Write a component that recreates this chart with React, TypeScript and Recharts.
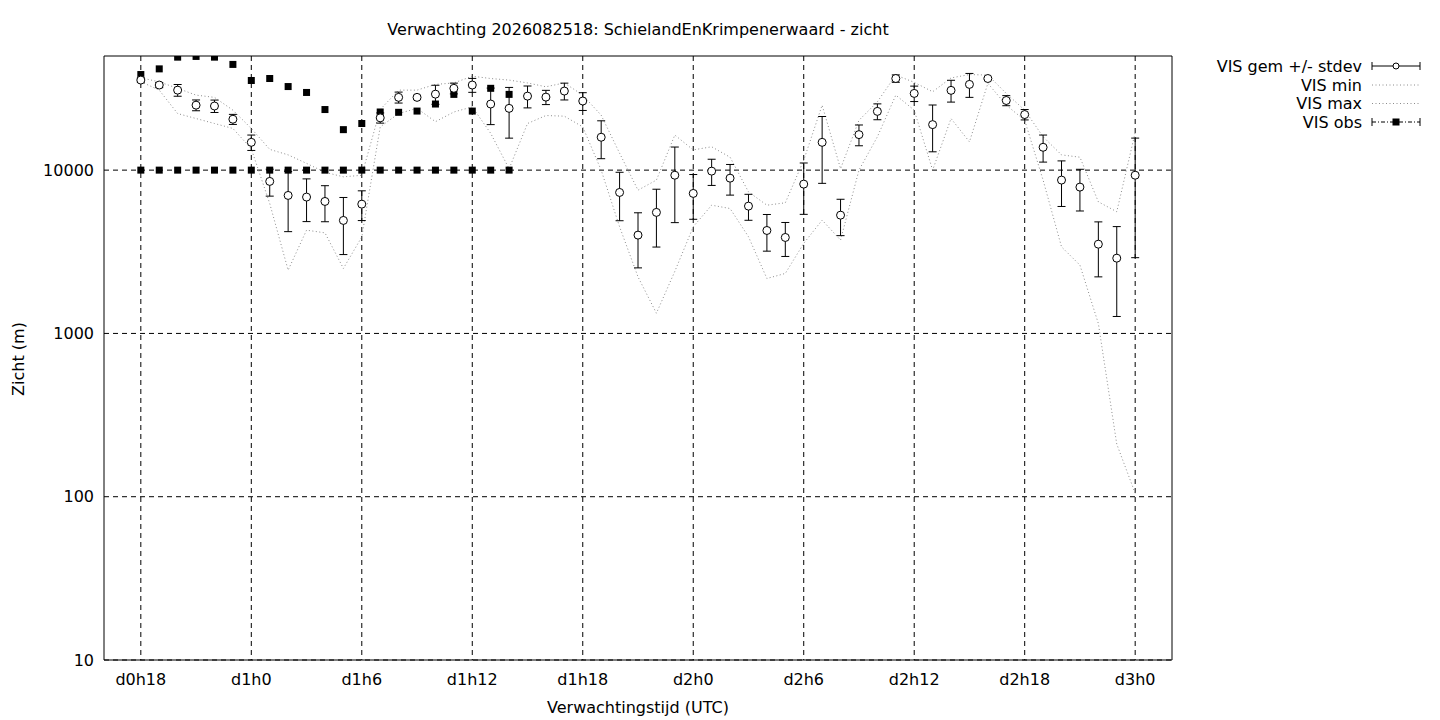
import React from "react";
import {
  CartesianGrid,
  ComposedChart,
  ErrorBar,
  Legend,
  Line,
  Scatter,
  XAxis,
  YAxis,
} from "recharts";

// forecast hours since d0h0
const hours = [
  18, 19, 20, 21, 22, 23, 24, 25, 26, 27, 28, 29, 30, 31, 32, 33, 34, 35, 36,
  37, 38, 39, 40, 41, 42, 43, 44, 45, 46, 47, 48, 49, 50, 51, 52, 53, 54, 55,
  56, 57, 58, 59, 60, 61, 62, 63, 64, 65, 66, 67, 68, 69, 70, 71, 72,
];

const visMean = [
  35600, 33200, 30900, 25000, 24700, 20500, 14800, 8530, 7000, 6840, 6430,
  4920, 6190, 20900, 27900, 27900, 29200, 31700, 33200, 25400, 23900, 28400,
  28000, 30500, 26500, 15900, 7300, 4000, 5510, 9310, 7200, 9860, 8930, 6020,
  4270, 3870, 8210, 14800, 5300, 16500, 22900, 36400, 29500, 19000, 30800,
  33500, 36400, 26700, 21900, 13800, 8690, 7870, 3520, 2890, 9310,
];

const visSd = [
  1000, 1200, 2550, 1900, 2150, 1450, 1600, 1600, 2800, 2000, 1600, 1880,
  1280, 1500, 2150, 800, 3900, 2400, 3250, 6400, 8200, 4350, 2800, 3600, 3300,
  4150, 2400, 1480, 2130, 4540, 2200, 1800, 1900, 1090, 1080, 910, 2850, 6500,
  1330, 2400, 2550, 1900, 3200, 6050, 4700, 5600, 500, 1900, 1600, 2600, 2700,
  2250, 1300, 1620, 6400,
];

const visMin = [
  34800, 30900, 22200, 20700, 19300, 18000, 13500, 6250, 2440, 4290, 4130,
  2500, 3900, 18400, 22200, 23900, 19800, 22700, 24400, 16800, 10200, 19300,
  21600, 21400, 18400, 10000, 4500, 2220, 1330, 2400, 4500, 6100, 5820, 3910,
  2170, 2330, 3560, 4940, 3730, 10000, 16000, 28800, 23300, 10000, 20700,
  14900, 34000, 25000, 20200, 8690, 3390, 2620, 1150, 210, 105,
];

const visMax = [
  36800, 34700, 31700, 28800, 27900, 23300, 18000, 13400, 12400, 11000, 9700,
  9100, 9300, 23500, 30900, 30900, 33500, 34200, 37600, 36400, 35600, 34200,
  32400, 34200, 28800, 21700, 12700, 7540, 8690, 16400, 13300, 13900, 12000,
  7360, 6100, 6310, 11500, 25000, 10200, 20200, 26200, 38200, 34500, 30200,
  36700, 38500, 38200, 29500, 23300, 16000, 12400, 12000, 6400, 5560, 17000,
];

const obsHours = [
  18, 19, 20, 21, 22, 23, 24, 25, 26, 27, 28, 29, 30, 31, 32, 33, 34, 35, 36,
  37, 38,
];

const obsHigh = [
  38500, 41700, 49200, 49700, 49200, 44400, 35400, 36400, 32500, 29900, 23500,
  17700, 19300, 22700, 22600, 23000, 25400, 29100, 23000, 31700, 29100,
];

const obsLow = [
  10000, 10000, 10000, 10000, 10000, 10000, 10000, 10000, 10000, 10000, 10000,
  10000, 10000, 10000, 10000, 10000, 10000, 10000, 10000, 10000, 10000,
];

const xTicks = [18, 24, 30, 36, 42, 48, 54, 60, 66, 72];
const yTicks = [10, 100, 1000, 10000];
const yMinorTicks = [
  20, 30, 40, 50, 60, 70, 80, 90, 200, 300, 400, 500, 600, 700, 800, 900, 2000,
  3000, 4000, 5000, 6000, 7000, 8000, 9000, 20000, 30000, 40000,
];

const legendItems = [
  { label: "VIS gem +/- stdev", kind: "mean" },
  { label: "VIS min", kind: "min" },
  { label: "VIS max", kind: "max" },
  { label: "VIS obs", kind: "obs" },
];

const rows = hours.map((h, i) => ({
  h,
  mean: visMean[i],
  sd: visSd[i],
  min: visMin[i],
  max: visMax[i],
}));

const obsRows = obsHours.map((h, i) => ({ h, obsHigh: obsHigh[i], obsLow: obsLow[i] }));

const FONT = '"DejaVu Sans", sans-serif';
const DOTTED = "#8c8c8c";
const DOTS = "1 2.5";
const X_DOMAIN = [16, 74];
const Y_DOMAIN = [10, 50000];

const fmtHour = (h: number) => `d${Math.floor(h / 24)}h${h % 24}`;

const OpenCircle = (p: any) => (
  <circle cx={p.cx} cy={p.cy} r={4} fill="#fff" stroke="#000" strokeWidth={1} />
);

const Square = (p: any) => (
  <rect x={p.cx - 3.5} y={p.cy - 3.5} width={7} height={7} fill="#000" />
);

function LegendBox() {
  const rowY = [10, 29, 47.5, 66];
  return (
    <svg width={240} height={80} style={{ overflow: "visible" }}>
      {legendItems.map((item, i) => {
        const y = rowY[i];
        return (
          <g key={item.label}>
            <text
              x={172}
              y={y}
              dy="0.35em"
              textAnchor="end"
              fontSize={16}
              fontFamily={FONT}
              fill="#000"
            >
              {item.label}
            </text>
            {item.kind === "mean" && (
              <g stroke="#000" strokeWidth={1}>
                <line x1={182} x2={230} y1={y} y2={y} />
                <line x1={182} x2={182} y1={y - 4} y2={y + 4} />
                <line x1={230} x2={230} y1={y - 4} y2={y + 4} />
                <circle cx={206} cy={y} r={3} fill="#fff" />
              </g>
            )}
            {(item.kind === "min" || item.kind === "max") && (
              <line x1={182} x2={230} y1={y} y2={y} stroke={DOTTED} strokeDasharray={DOTS} />
            )}
            {item.kind === "obs" && (
              <g stroke="#000" strokeWidth={1}>
                <line x1={182} x2={230} y1={y} y2={y} strokeDasharray="4 2 1 2" />
                <line x1={182} x2={182} y1={y - 4} y2={y + 4} />
                <line x1={230} x2={230} y1={y - 4} y2={y + 4} />
                <rect x={203} y={y - 3} width={6} height={6} fill="#000" />
              </g>
            )}
          </g>
        );
      })}
    </svg>
  );
}

export default function App() {
  const tickStyle = { fill: "#000", fontSize: 16, fontFamily: FONT };
  const black = { stroke: "#000" };
  return (
    <div
      style={{
        position: "absolute",
        left: 0,
        top: 0,
        width: 1440,
        height: 720,
        background: "#fff",
        fontFamily: FONT,
      }}
    >
      <ComposedChart
        width={1440}
        height={720}
        data={rows}
        margin={{ top: 56, right: 268, bottom: 30, left: 44 }}
      >
        <CartesianGrid
          xAxisId="x"
          yAxisId="y"
          stroke="#000"
          strokeDasharray="5 4"
          syncWithTicks
        />
        <XAxis
          xAxisId="x"
          dataKey="h"
          type="number"
          domain={X_DOMAIN}
          ticks={xTicks}
          interval={0}
          allowDataOverflow
          tickFormatter={fmtHour}
          tickLine={false}
          tickSize={0}
          tickMargin={14}
          height={30}
          axisLine={black}
          tick={tickStyle}
        />
        <XAxis
          xAxisId="xBot"
          type="number"
          orientation="bottom"
          mirror
          height={1}
          domain={X_DOMAIN}
          ticks={xTicks}
          interval={0}
          allowDataOverflow
          tick={false}
          tickSize={9}
          axisLine={false}
          tickLine={black}
        />
        <XAxis
          xAxisId="xTop"
          type="number"
          orientation="top"
          mirror
          height={1}
          domain={X_DOMAIN}
          ticks={xTicks}
          interval={0}
          allowDataOverflow
          tick={false}
          tickSize={9}
          axisLine={black}
          tickLine={black}
        />
        <YAxis
          yAxisId="y"
          scale="log"
          domain={Y_DOMAIN}
          ticks={yTicks}
          interval={0}
          allowDataOverflow
          width={60}
          tickLine={false}
          tickSize={0}
          tickMargin={10}
          axisLine={black}
          tick={tickStyle}
        />
        <YAxis
          yAxisId="yMajL"
          scale="log"
          orientation="left"
          mirror
          width={1}
          domain={Y_DOMAIN}
          ticks={yTicks}
          interval={0}
          allowDataOverflow
          tick={false}
          tickSize={9}
          axisLine={false}
          tickLine={black}
        />
        <YAxis
          yAxisId="yMinL"
          scale="log"
          orientation="left"
          mirror
          width={1}
          domain={Y_DOMAIN}
          ticks={yMinorTicks}
          interval={0}
          allowDataOverflow
          tick={false}
          tickSize={5}
          axisLine={false}
          tickLine={black}
        />
        <YAxis
          yAxisId="yMajR"
          scale="log"
          orientation="right"
          mirror
          width={1}
          domain={Y_DOMAIN}
          ticks={yTicks}
          interval={0}
          allowDataOverflow
          tick={false}
          tickSize={9}
          axisLine={black}
          tickLine={black}
        />
        <YAxis
          yAxisId="yMinR"
          scale="log"
          orientation="right"
          mirror
          width={1}
          domain={Y_DOMAIN}
          ticks={yMinorTicks}
          interval={0}
          allowDataOverflow
          tick={false}
          tickSize={5}
          axisLine={false}
          tickLine={black}
        />
        <Line
          xAxisId="x"
          yAxisId="y"
          type="linear"
          dataKey="min"
          stroke={DOTTED}
          strokeWidth={1}
          strokeDasharray={DOTS}
          dot={false}
          activeDot={false}
          isAnimationActive={false}
        />
        <Line
          xAxisId="x"
          yAxisId="y"
          type="linear"
          dataKey="max"
          stroke={DOTTED}
          strokeWidth={1}
          strokeDasharray={DOTS}
          dot={false}
          activeDot={false}
          isAnimationActive={false}
        />
        <Scatter
          xAxisId="x"
          yAxisId="y"
          data={obsRows}
          dataKey="obsLow"
          shape={Square}
          isAnimationActive={false}
        />
        <Scatter
          xAxisId="x"
          yAxisId="y"
          data={obsRows}
          dataKey="obsHigh"
          shape={Square}
          isAnimationActive={false}
        />
        <Scatter
          xAxisId="x"
          yAxisId="y"
          dataKey="mean"
          shape={OpenCircle}
          isAnimationActive={false}
        >
          <ErrorBar dataKey="sd" direction="y" width={4} stroke="#000" strokeWidth={1} />
        </Scatter>
        <Legend
          layout="horizontal"
          verticalAlign="middle"
          align="center"
          wrapperStyle={{ left: 1190, top: 56, width: 240, height: 80 }}
          content={() => <LegendBox />}
        />
      </ComposedChart>
      <div
        style={{
          position: "absolute",
          left: 638,
          top: 29,
          transform: "translate(-50%, -50%)",
          whiteSpace: "nowrap",
          fontSize: 16,
        }}
      >
        Verwachting 2026082518: SchielandEnKrimpenerwaard - zicht
      </div>
      <div
        style={{
          position: "absolute",
          left: 638,
          top: 707,
          transform: "translate(-50%, -50%)",
          whiteSpace: "nowrap",
          fontSize: 16,
        }}
      >
        Verwachtingstijd (UTC)
      </div>
      <div
        style={{
          position: "absolute",
          left: 17.5,
          top: 358.5,
          transform: "translate(-50%, -50%) rotate(-90deg)",
          whiteSpace: "nowrap",
          fontSize: 16,
        }}
      >
        Zicht (m)
      </div>
    </div>
  );
}
